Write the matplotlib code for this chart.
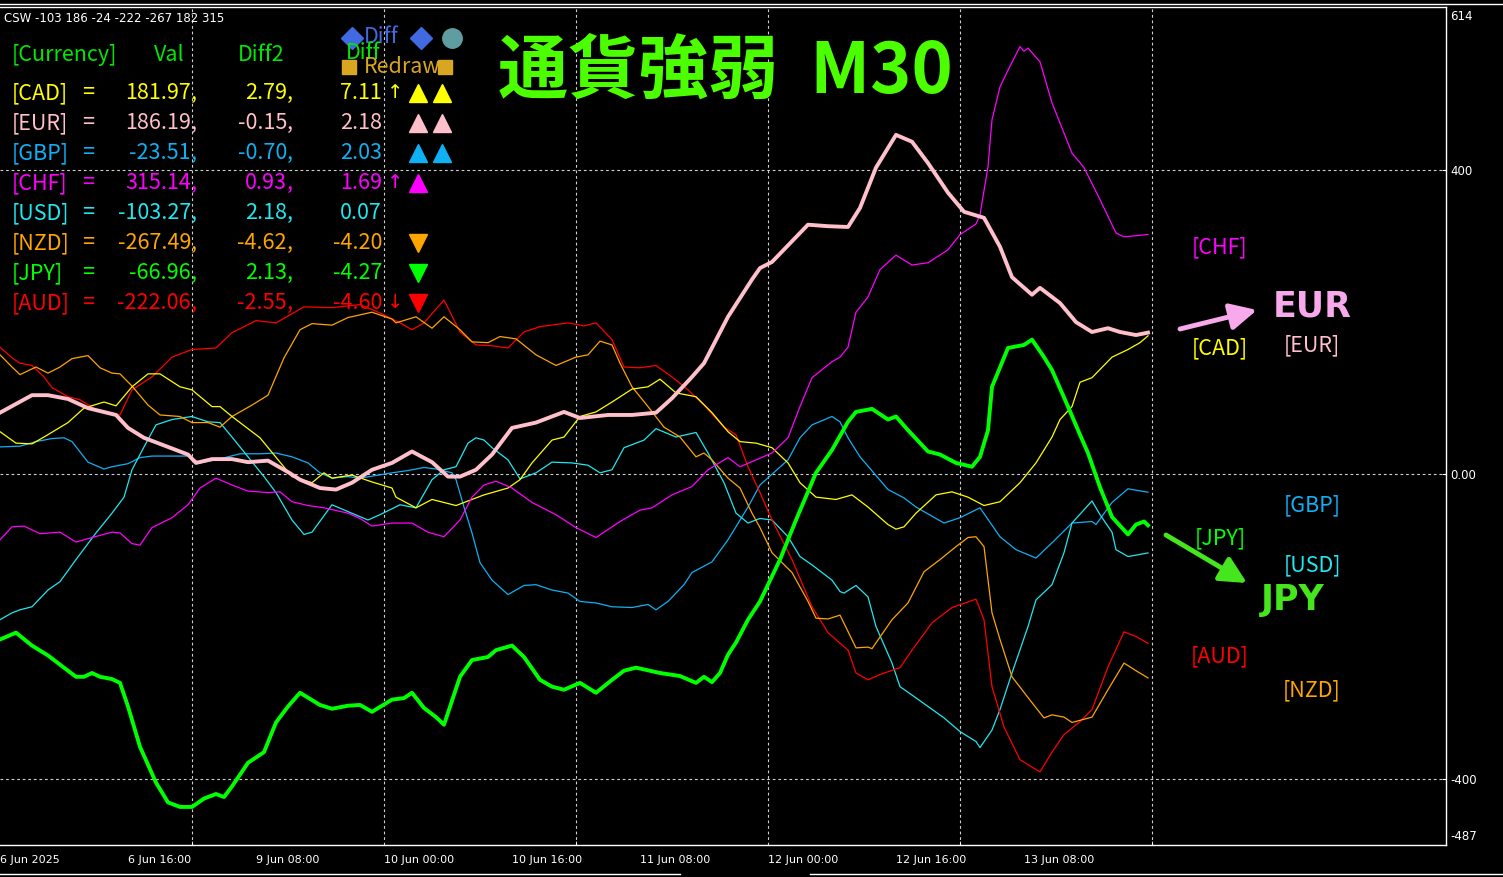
import matplotlib
matplotlib.use('Agg')
import matplotlib.pyplot as plt
from matplotlib.lines import Line2D

# ---------------- data (x = M30 bar index, y = strength) ----------------
eur_x = [0,8,12,17,22,29,32,36,42,47,49,53,58,62,67,72,75,80,84,88,93,98,103,108,112,115,119,123,128,134,
         141,145,152,158,164,168,173,176,182,188,190,193,202,207,212,215,219,224,228,232,237,241,246,250,253,
         258,260,265,269,273,277,280,284,287]
eur_y = [81,104,104,99,87,78,61,48,36,26,15,20,20,16,18,3,-7,-18,-20,-11,6,15,30,16,-3,-3,6,26,61,68,
         82,74,78,78,81,100,128,146,207,256,271,279,328,326,325,350,403,446,437,409,370,345,337,299,259,
         236,245,225,200,187,192,187,183,186.19]

chf_x = [0,3,6,10,15,19,23,28,30,33,35,38,43,47,50,54,58,62,67,70,73,77,81,87,90,93,98,103,107,111,
         115,118,121,124,128,133,139,144,149,155,160,163,168,173,177,182,185,193,197,200,203,208,210,212,214,
         217,220,224,228,232,237,240,244,245,247,248,250,252,255,256,257,260,263,268,271,275,279,281,287]
chf_y = [-86,-69,-68,-78,-76,-89,-83,-76,-77,-91,-93,-70,-57,-40,-18,-5,-14,-22,-24,-23,-36,-41,-44,-51,-58,
         -68,-64,-64,-76,-82,-60,-30,-14,-9,-18,-37,-53,-70,-83,-62,-47,-44,-27,-16,6,22,10,28,48,89,
         127,148,154,167,213,233,269,288,275,278,295,315,329,341,404,466,509,531,562,556,560,542,488,422,403,
         361,317,312,315.14]

jpy_x = [0,4,8,12,16,19,21,23,25,28,30,32,35,39,42,45,48,51,54,56,58,62,66,69,72,75,80,83,87,90,
         93,98,101,103,106,109,111,115,118,122,124,128,131,135,138,141,145,149,153,156,159,165,170,174,176,
         178,180,182,184,187,190,195,199,204,208,212,214,218,222,224,227,232,235,239,243,245,247,248,252,256,
         258,261,263,267,270,272,275,278,282,284,286,287]
jpy_y = [-217,-208,-225,-238,-254,-266,-266,-261,-266,-269,-274,-305,-358,-405,-431,-437,-437,-426,-420,-424,
         -410,-379,-365,-326,-305,-287,-303,-308,-304,-303,-312,-296,-294,-287,-307,-319,-329,-266,-244,-240,
         -231,-225,-240,-270,-279,-283,-274,-287,-270,-258,-254,-261,-265,-274,-266,-273,-261,-237,-221,-191,
         -167,-112,-60,2,32,69,82,86,72,76,58,30,26,15,10,23,58,115,166,170,
         177,154,137,89,52,28,-17,-56,-79,-66,-62,-66.96]

aud_x = [0,3,5,8,11,13,17,20,24,30,33,38,43,48,54,58,64,69,76,83,90,95,100,103,106,111,115,119,123,127,
         131,135,142,146,149,153,156,160,164,168,172,176,181,184,187,190,193,198,203,207,212,214,217,220,225,
         228,233,238,244,246,248,251,255,260,263,266,270,273,277,281,284,287]
aud_y = [167,153,146,143,128,114,102,98,85,78,111,128,154,164,166,186,202,199,220,219,223,212,199,190,199,
         229,187,170,169,166,187,194,199,195,199,177,141,140,143,128,111,91,62,52,10,-24,-60,-112,-174,-208,
         -231,-261,-270,-263,-254,-231,-195,-175,-164,-191,-279,-332,-375,-391,-365,-342,-325,-309,-253,-207,
         -213,-222.06]

nzd_x = [0,3,5,9,12,15,18,22,25,28,30,33,37,40,45,48,52,55,58,63,67,71,75,78,83,87,93,98,99,104,
         108,111,115,118,122,125,129,134,139,144,147,150,153,155,158,162,166,170,174,176,178,182,185,188,190,
         193,198,202,204,207,210,214,217,218,223,227,231,235,239,242,244,246,248,250,253,258,261,263,266,268,
         273,277,281,284,287]
nzd_y = [157,141,131,141,133,141,152,156,140,133,132,116,91,78,76,68,68,62,76,91,104,153,190,198,196,
         206,213,204,199,207,192,207,190,174,173,181,178,157,143,154,157,175,170,146,115,89,62,49,23,28,
         19,-5,-18,-51,-70,-103,-129,-167,-189,-190,-185,-228,-227,-229,-191,-169,-128,-112,-95,-83,
         -82,-95,-182,-217,-266,-300,-320,-316,-319,-326,-319,-283,-248,-258,-267.49]

cad_x = [0,4,8,11,17,21,26,29,33,37,40,45,48,53,55,58,65,70,73,78,81,83,88,93,98,99,104,108,114,121,
         127,130,133,138,141,145,149,153,158,162,165,169,174,178,182,185,189,193,197,200,204,209,213,217,222,
         224,226,229,234,238,242,246,250,255,259,263,265,268,270,273,278,282,285,287]
cad_y = [56,41,40,49,68,87,95,90,115,132,132,115,111,89,89,76,48,16,-3,-11,2,-5,-1,-10,-18,-30,-44,-33,-41,-27,
         -18,-7,15,45,49,76,82,95,112,115,125,107,102,81,56,43,41,35,15,-11,-30,-33,-27,-43,-66,-72,-69,-51,
         -27,-23,-30,-41,-36,-11,15,49,72,89,121,127,154,164,173,181.97]

usd_x = [0,3,5,8,12,15,19,24,28,31,33,36,39,43,48,52,55,58,62,66,69,73,76,78,83,87,92,95,100,104,
         108,111,114,117,119,121,123,127,130,134,138,143,147,150,153,156,161,164,169,174,177,181,184,187,190,
         193,197,200,203,208,210,211,214,217,219,223,225,228,232,236,240,244,245,248,250,253,257,259,263,266,
         268,273,275,278,279,282,287]
usd_y = [-191,-182,-178,-174,-152,-141,-112,-77,-51,-30,6,36,65,72,76,69,68,49,23,-3,-24,-60,-79,-76,-40,
         -49,-60,-53,-40,-44,-7,6,10,41,48,45,35,19,-6,2,16,15,12,2,6,35,45,60,49,55,28,-11,-51,-64,-58,
         -60,-82,-108,-119,-139,-154,-156,-146,-161,-200,-248,-279,-290,-305,-320,-338,-351,-359,-336,-309,
         -261,-200,-165,-145,-103,-64,-35,-53,-76,-99,-108,-103.27]

gbp_x = [0,5,9,13,16,18,22,26,28,32,35,38,47,50,54,60,65,69,73,77,80,83,87,90,98,102,106,109,113,114,
         116,118,120,123,127,131,134,138,142,145,149,153,158,162,164,167,171,173,178,182,187,190,197,200,203,
         208,210,212,215,222,226,229,236,240,245,250,254,259,263,268,273,274,278,282,287]
gbp_y = [36,37,43,47,48,43,16,7,10,14,22,24,24,15,19,27,27,28,23,15,2,-5,-3,-5,2,5,9,7,2,-7,
         -43,-77,-116,-139,-158,-146,-145,-152,-156,-167,-169,-174,-175,-171,-178,-167,-145,-129,-115,-86,
         -43,-14,19,48,65,76,69,48,23,-20,-31,-43,-64,-57,-44,-82,-99,-110,-90,-64,-62,-66,-37,-19,-23.51]

# table
tbl_names = ['CAD', 'EUR', 'GBP', 'CHF', 'USD', 'NZD', 'JPY', 'AUD']
tbl_val = [181.97, 186.19, -23.51, 315.14, -103.27, -267.49, -66.96, -222.06]
tbl_diff2 = [2.79, -0.15, -0.70, 0.93, 2.18, -4.62, 2.13, -2.55]
tbl_diff = [7.11, 2.18, 2.03, 1.69, 0.07, -4.20, -4.27, -4.60]
tbl_arrow = ['↑', '', '', '↑', '', '', '', '↓']
tbl_tri = [2, 2, 2, 1, 0, -1, -1, -1]

date_labels = ['6 Jun 2025', '6 Jun 16:00', '9 Jun 08:00', '10 Jun 00:00', '10 Jun 16:00',
               '11 Jun 08:00', '12 Jun 00:00', '12 Jun 16:00', '13 Jun 08:00']
csw_text = 'CSW -103 186 -24 -222 -267 182 315'

colors = {'CAD': '#FFFF00', 'EUR': '#FFC0CB', 'GBP': '#10B0F5', 'CHF': '#FF00FF',
          'USD': '#20E8F0', 'NZD': '#FFA500', 'JPY': '#00FF00', 'AUD': '#FF0000'}

# ---------------- figure ----------------
W, H = 1503, 877
fig = plt.figure(figsize=(W / 100, H / 100), dpi=100, facecolor='black')
ax = fig.add_axes([0, 32 / H, 1446 / W, 838 / H], facecolor='black')

def fx(x):
    return x / W

def fy(y):
    return 1 - y / H

ax.set_xlim(0, 1446 / 4)
ax.set_ylim(-487, 614)

grid_kw = dict(color='#D0D0D0', lw=0.8, dashes=(2.5, 2.5), zorder=1)
for v in (400, 0, -400):
    ax.axhline(v, **grid_kw)
for b in range(48, 300, 48):
    ax.axvline(b, **grid_kw)

thin = [('GBP', gbp_x, gbp_y), ('USD', usd_x, usd_y), ('AUD', aud_x, aud_y), ('NZD', nzd_x, nzd_y),
        ('CAD', cad_x, cad_y), ('CHF', chf_x, chf_y)]
for name, xs, ys in thin:
    ax.plot(xs, ys, color=colors[name], lw=0.9, zorder=3)
ax.plot(eur_x, eur_y, color=colors['EUR'], lw=2.8, zorder=4, solid_joinstyle='round')
ax.plot(jpy_x, jpy_y, color=colors['JPY'], lw=2.8, zorder=4, solid_joinstyle='round')

# axes styling
for s in ('top', 'bottom', 'right'):
    ax.spines[s].set_color('white')
    ax.spines[s].set_linewidth(1.0)
ax.spines['left'].set_visible(False)
ax.yaxis.tick_right()
ax.set_yticks([400, 0, -400])
ax.set_yticklabels(['400', '0.00', '-400'])
ax.tick_params(axis='y', colors='white', labelcolor='white', labelsize=8.5, direction='in', length=3, pad=3)
ax.set_xticks(range(0, 257, 32))
ax.set_xticklabels(date_labels, ha='left')
ax.tick_params(axis='x', which='major', length=0, labelcolor='white', labelsize=8, pad=7)
ax.set_xticks(range(48, 300, 48), minor=True)
ax.tick_params(axis='x', which='minor', direction='in', length=3, color='white')

fig.text(fx(1450), fy(17), '614', color='white', fontsize=8.5, va='center', ha='left')
fig.text(fx(1450), fy(836), '-487', color='white', fontsize=8.5, va='center', ha='left')

# window edges
fig.add_artist(Line2D([0, 1], [fy(4), fy(4)], color='white', lw=1, transform=fig.transFigure))
fig.add_artist(Line2D([0, fx(680)], [fy(874), fy(874)], color='white', lw=1, transform=fig.transFigure))
fig.add_artist(Line2D([fx(810), 1], [fy(874), fy(874)], color='white', lw=1, transform=fig.transFigure))

# ---------------- texts ----------------
fig.text(fx(4), fy(19), csw_text, color='white', fontsize=8.5, va='center', ha='left')

TF = ['Noto Sans CJK JP', 'DejaVu Sans']
TS = 15.5
hdr = '#00E800'
fig.text(fx(12), fy(55), '[Currency]', color=hdr, fontsize=TS, family=TF, va='center')
fig.text(fx(154), fy(55), 'Val', color=hdr, fontsize=TS, family=TF, va='center')
fig.text(fx(238), fy(55), 'Diff2', color=hdr, fontsize=TS, family=TF, va='center')

# legend overlay (Diff / Redraw)
fig.add_artist(Line2D([fx(352)], [fy(38)], marker='D', ms=11, color='#4169E1', lw=0, transform=fig.transFigure))
fig.add_artist(Line2D([fx(421)], [fy(38)], marker='D', ms=11, color='#4169E1', lw=0, transform=fig.transFigure))
fig.add_artist(Line2D([fx(452)], [fy(38)], marker='o', ms=14, color='#5F9EA0', lw=0, transform=fig.transFigure))
fig.text(fx(364), fy(37), 'Diff', color='#4169E1', fontsize=TS, family=TF, va='center')
fig.text(fx(346), fy(53), 'Diff', color=hdr, fontsize=TS, family=TF, va='center')
fig.add_artist(Line2D([fx(349)], [fy(67)], marker='s', ms=10, color='#DAA520', lw=0, transform=fig.transFigure))
fig.add_artist(Line2D([fx(445)], [fy(67)], marker='s', ms=10, color='#DAA520', lw=0, transform=fig.transFigure))
fig.text(fx(364), fy(67), 'Redraw', color='#DAA520', fontsize=TS, family=TF, va='center')

for i, name in enumerate(tbl_names):
    y = 93 + 30 * i
    c = colors[name]
    kw = dict(color=c, fontsize=TS, family=TF, va='center')
    fig.text(fx(12), fy(y), f'[{name}]', ha='left', **kw)
    fig.text(fx(88), fy(y), '=', ha='center', **kw)
    fig.text(fx(191), fy(y), f'{tbl_val[i]:.2f}', ha='right', **kw)
    fig.text(fx(191), fy(y), ',', ha='left', **kw)
    fig.text(fx(287), fy(y), f'{tbl_diff2[i]:.2f}', ha='right', **kw)
    fig.text(fx(287), fy(y), ',', ha='left', **kw)
    fig.text(fx(382), fy(y), f'{tbl_diff[i]:.2f}', ha='right', **kw)
    if tbl_arrow[i]:
        fig.text(fx(395), fy(y), tbl_arrow[i], ha='center', color=c, fontsize=14,
                 family=['DejaVu Sans'], va='center')
    n = abs(tbl_tri[i])
    mk = '^' if tbl_tri[i] > 0 else 'v'
    for k in range(n):
        fig.add_artist(Line2D([fx(418 + 24 * k)], [fy(y)], marker=mk, ms=13, color=c, lw=0,
                              transform=fig.transFigure))

fig.text(fx(725), fy(72), '通貨強弱  M30', color='#4CFF00', fontsize=50.5, fontweight='bold',
         family=['Noto Sans CJK JP', 'DejaVu Sans'], ha='center', va='center')

# right-side labels
rl = [('[CHF]', 'CHF', 1220, 247), ('[CAD]', 'CAD', 1220, 348), ('[EUR]', 'EUR', 1312, 345),
      ('[GBP]', 'GBP', 1312, 505), ('[JPY]', 'JPY', 1220, 538), ('[USD]', 'USD', 1312, 565),
      ('[AUD]', 'AUD', 1220, 656), ('[NZD]', 'NZD', 1312, 690)]
for t, n, x, y in rl:
    fig.text(fx(x), fy(y), t, color=colors[n], fontsize=TS, family=TF, ha='center', va='center')

eur_big = '#F7A9EC'
jpy_big = '#46E61E'
fig.text(fx(1312), fy(307), 'EUR', color=eur_big, fontsize=25, fontweight='bold', ha='center', va='center')
fig.text(fx(1293), fy(600), 'JPY', color=jpy_big, fontsize=25, fontweight='bold', ha='center', va='center')
ax.annotate('', xy=(fx(1257), fy(310)), xytext=(fx(1180), fy(329)), xycoords='figure fraction',
            textcoords='figure fraction',
            arrowprops=dict(arrowstyle='-|>,head_length=0.8,head_width=0.4', color=eur_big, lw=3.5,
                            mutation_scale=20, shrinkA=0, shrinkB=0))
ax.annotate('', xy=(fx(1247), fy(583)), xytext=(fx(1166), fy(535)), xycoords='figure fraction',
            textcoords='figure fraction',
            arrowprops=dict(arrowstyle='-|>,head_length=0.8,head_width=0.4', color=jpy_big, lw=3.5,
                            mutation_scale=20, shrinkA=0, shrinkB=0))

fig.savefig('out.png', dpi=100, facecolor='black')
